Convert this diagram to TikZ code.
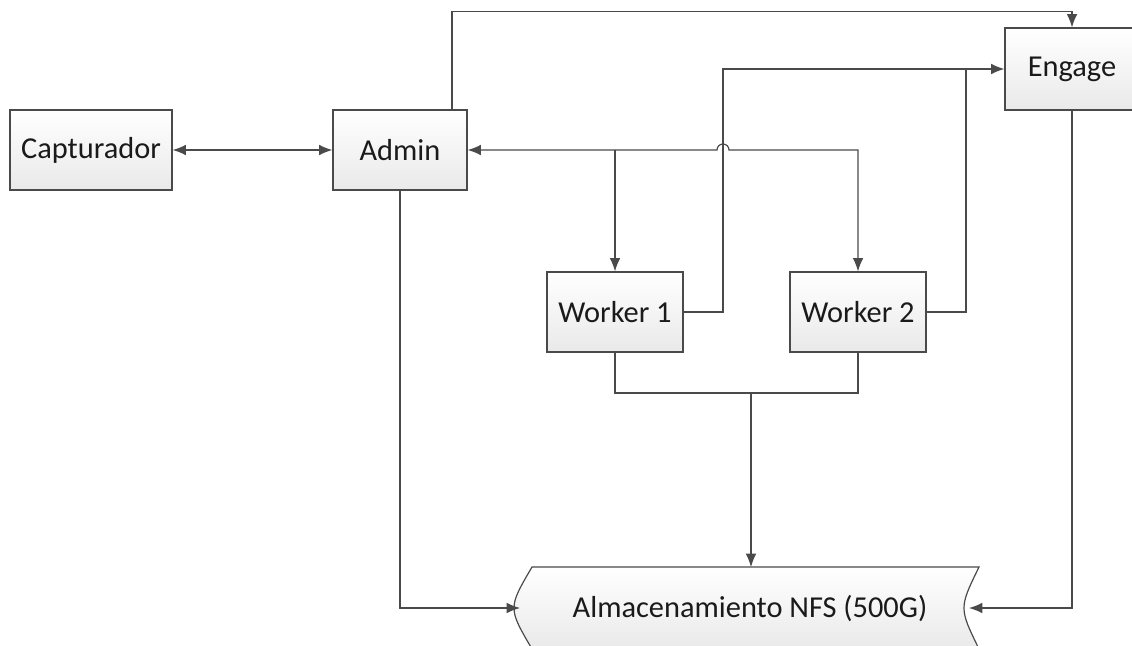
\documentclass[tikz,border=0pt]{standalone}
\usepackage{fontspec}
\setmainfont{Carlito}
\usetikzlibrary{arrows.meta, positioning}

\definecolor{lineclr}{HTML}{4A4A4A}
\definecolor{textclr}{HTML}{1A1A1A}

\tikzset{
    box/.style={draw=lineclr, line width=0.9pt, top color=white, bottom color=gray!17,
                text=textclr, minimum height=60pt, inner sep=0pt,
                font=\fontsize{22.8}{27}\selectfont},
    link/.style={draw=lineclr, line width=0.9pt},
    tip/.style={-{Latex[length=10pt,width=8pt]}},
    tips/.style={{Latex[length=10pt,width=8pt]}-{Latex[length=10pt,width=8pt]}}
}

\begin{document}
\begin{tikzpicture}[x=0.75pt, y=-0.75pt]

\useasboundingbox (0,0) rectangle (1132,646);

% Boxes
\node[box, minimum width=121.5pt] (cap) at (91,150) {Capturador};
\node[box, minimum width=100.5pt] (admin) at (400,150) {Admin};
\node[box, minimum width=100.5pt, minimum height=61.5pt] (engage) at (1072,69) {Engage};
\node[box, minimum width=102pt] (w1) at (615,312) {Worker 1};
\node[box, minimum width=102pt] (w2) at (858,312) {Worker 2};

% Storage (stored data shape)
\draw[link, top color=white, bottom color=gray!17]
    (532,567) -- (979,567) .. controls (959,608) .. (979,649)
    -- (532,649) .. controls (508,608) .. (532,567) -- cycle;
\node[text=textclr, font=\fontsize{22.8}{27}\selectfont] (nfs) at (750,608) {Almacenamiento NFS (500G)};
\coordinate (nfsL) at (520,608);
\coordinate (nfsR) at (969,608);
\coordinate (nfsT) at (751,567);

% Helper points
\coordinate (jump) at (723,150);
\coordinate (riser) at (723,69);
\coordinate (riser2) at (966,69);
\coordinate (join) at (751,393);

% Capturador <-> Admin
\draw[link, tips] (cap) -- (admin);

% Admin to Engage (over the top)
\draw[link, tip] ([xshift=39pt]admin.north) -- ++(0,-98) -| (engage.north);

% Admin bus to the workers
\draw[link, tips] (admin.east) -- ([xshift=-4.5pt]jump)
    arc[start angle=180, end angle=0, radius=4.5pt] -| (w2.north);
\draw[link, tip] (w1.north |- admin.east) -- (w1.north);

% Workers to Engage
\draw[link, tip] (w1.east) -| (riser) -- (engage.west);
\draw[link] (w2.east) -| (riser2);

% Workers to storage
\draw[link] (w1.south) |- (join) -| (w2.south);
\draw[link, tip] (join) -- (nfsT);

% Admin and Engage to storage
\draw[link, tip] (admin.south) |- (nfsL);
\draw[link, tip] (engage.south) |- (nfsR);

\end{tikzpicture}
\end{document}
